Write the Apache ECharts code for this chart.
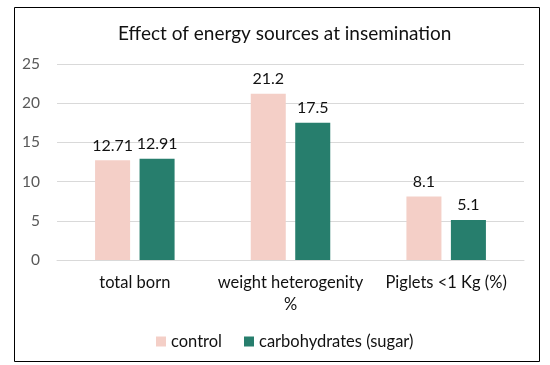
<!DOCTYPE html>
<html>
<head>
<meta charset="utf-8">
<script src="https://cdn.jsdelivr.net/npm/echarts@6/dist/echarts.min.js"></script>
<style>html,body{margin:0;padding:0;background:#fff;}#c{width:550px;height:365px;}</style>
</head>
<body>
<div id="c"></div>
<script>
var categories = ["total born", "weight heterogenity\n%", "Piglets <1 Kg (%)"];
var controlValues = [12.71, 21.2, 8.1];
var sugarValues = [12.91, 17.5, 5.1];
var controlLabels = ["12.71", "21.2", "8.1"];
var sugarLabels = ["12.91", "17.5", "5.1"];
var seriesNames = ["control", "carbohydrates (sugar)"];
var titleText = "Effect of energy sources at insemination";

var FONT = "Lato";
var chart = echarts.init(document.getElementById('c'), null, {renderer: 'canvas'});
chart.setOption({
  animation: false,
  backgroundColor: '#ffffff',
  title: {
    text: titleText,
    left: 113,
    top: 19,
    textStyle: {fontFamily: FONT, fontSize: 19, fontWeight: 'normal', color: '#111'}
  },
  legend: {
    data: seriesNames,
    left: 151,
    top: 328,
    itemWidth: 10,
    itemHeight: 10,
    itemGap: 22,
    icon: 'rect',
    textStyle: {fontFamily: FONT, fontSize: 16.5, color: '#111'}
  },
  grid: {left: 57, right: 26, top: 64, bottom: 105, containLabel: false},
  xAxis: {
    type: 'category',
    data: categories,
    axisLine: {lineStyle: {color: '#d9d9d9', width: 1}},
    axisTick: {show: false},
    axisLabel: {fontFamily: FONT, fontSize: 16.5, color: '#111', margin: 12, lineHeight: 22, interval: 0}
  },
  yAxis: {
    type: 'value',
    min: 0, max: 25, interval: 5,
    axisLine: {show: false},
    axisTick: {show: false},
    splitLine: {lineStyle: {color: '#d9d9d9', width: 1}},
    axisLabel: {fontFamily: FONT, fontSize: 15.5, color: '#595959', margin: 17}
  },
  series: [
    {
      name: seriesNames[0], type: 'bar', data: controlValues,
      barWidth: '22.5%', barGap: '27%',
      itemStyle: {color: '#f4cfc7'},
      label: {show: true, position: 'top', distance: 7, fontFamily: FONT, fontSize: 16, color: '#111',
        formatter: function(p){return controlLabels[p.dataIndex];}}
    },
    {
      name: seriesNames[1], type: 'bar', data: sugarValues,
      barWidth: '22.5%', barGap: '27%',
      itemStyle: {color: '#277e6d'},
      label: {show: true, position: 'top', distance: 7, fontFamily: FONT, fontSize: 16, color: '#111',
        formatter: function(p){return sugarLabels[p.dataIndex];}}
    }
  ],
  graphic: [{
    type: 'rect', silent: true,
    shape: {x: 14.5, y: 7.5, width: 525, height: 354},
    style: {fill: 'none', stroke: '#000', lineWidth: 1}
  }]
});
</script>
</body>
</html>
